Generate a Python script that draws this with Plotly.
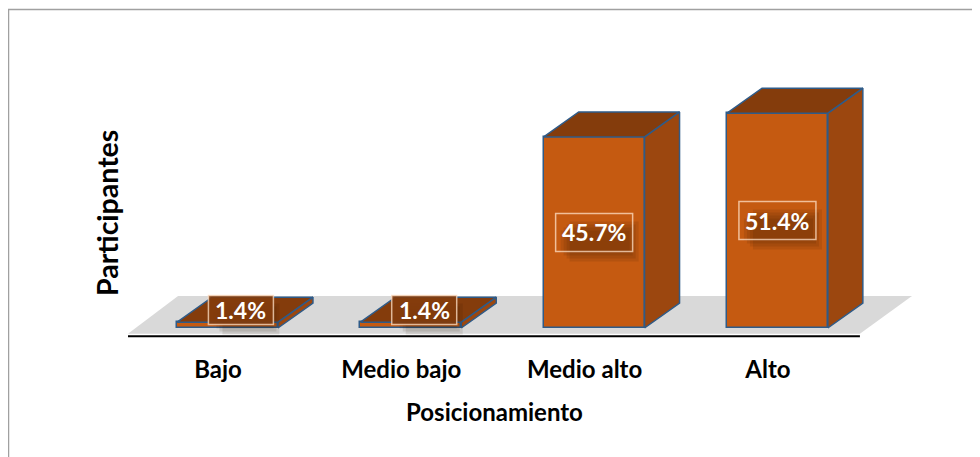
import plotly.graph_objects as go

# ---- data ----
categories = ["Bajo", "Medio bajo", "Medio alto", "Alto"]
values = [1.4, 1.4, 45.7, 51.4]
x_title = "Posicionamiento"
y_title = "Participantes"

# ---- style constants ----
FRONT = "#C55A11"
SIDE = "#9C470F"
TOP = "#843C0C"
EDGE = "#2F5B88"
FLOOR = "#D9D9D9"
FONT = "Lato, Carlito, Calibri, sans-serif"

OFF = 8  # page body margin
W, H = 980, 457
ML, MR, MT, MB = 100, 30, 40, 112
PW, PH = W - ML - MR, H - MT - MB
SX = 183.3   # px per category
SY = 4.18    # px per percent
X0PX = 218 - OFF   # pixel of category 0 tick
Y0PX = 328 - OFF   # pixel of value 0
XR = [-(X0PX - ML) / SX, -(X0PX - ML) / SX + PW / SX]
YR = [-(MT + PH - Y0PX) / SY, (Y0PX - MT) / SY]

BAR_SHIFT = 0.052     # bar front centre relative to category tick
BAR_W = 0.55          # front face width (x units)
DX, DY = 0.191, 5.98  # depth offset (x units, y units)
MIN_LABEL_Y = 4.3
TOP_LABEL_SHIFT = 0.125

def paper_x(px):
    return (px - OFF - ML) / PW

def paper_y(py):
    return (MT + PH - (py - OFF)) / PH

idx = list(range(len(categories)))
centers = [i + BAR_SHIFT for i in idx]

fig = go.Figure()

side_x, side_y, top_x, top_y = [], [], [], []
for c, v in zip(centers, values):
    x0, x1 = c - BAR_W / 2, c + BAR_W / 2
    side_x += [x1, x1 + DX, x1 + DX, x1, x1, None]
    side_y += [0, DY, v + DY, v, 0, None]
    top_x += [x0, x1, x1 + DX, x0 + DX, x0, None]
    top_y += [v, v, v + DY, v + DY, v, None]

fig.add_trace(go.Scatter(x=side_x, y=side_y, mode="lines", fill="toself",
                         fillcolor=SIDE, line=dict(color=EDGE, width=1.5),
                         hoverinfo="skip", showlegend=False))
fig.add_trace(go.Scatter(x=top_x, y=top_y, mode="lines", fill="toself",
                         fillcolor=TOP, line=dict(color=EDGE, width=1.5),
                         hoverinfo="skip", showlegend=False))
fig.add_trace(go.Bar(x=centers, y=values, width=BAR_W,
                     marker=dict(color=FRONT, line=dict(color=EDGE, width=1.5)),
                     hoverinfo="skip", showlegend=False))

shapes = []
shapes.append(dict(type="path", xref="x", yref="y", layer="below",
                   path="M -0.491,-1.4 L 3.502,-1.4 L 3.786,7.66 L -0.218,7.66 Z",
                   fillcolor=FLOOR, line=dict(width=0)))
shapes.append(dict(type="line", xref="x", yref="y", x0=-0.491, x1=3.502,
                   y0=-2.0, y1=-2.0, line=dict(color="black", width=2)))
shapes.append(dict(type="rect", xref="paper", yref="paper",
                   x0=paper_x(8.5), x1=paper_x(1010), y0=paper_y(480), y1=paper_y(9.5),
                   line=dict(color="#A0A0A0", width=1.5), fillcolor="rgba(0,0,0,0)"))

annotations = []
for i, c, v in zip(idx, centers, values):
    ly = v / 2
    lx = c
    small = ly < MIN_LABEL_Y
    if small:
        ly = MIN_LABEL_Y
        lx = i + TOP_LABEL_SHIFT
        bw, bh = 65, 29
    else:
        bw, bh = 77, 38
    for k in range(4):
        g = 3 * k
        shapes.append(dict(type="rect", xref="x", yref="y", layer="above",
                           xsizemode="pixel", ysizemode="pixel", xanchor=lx, yanchor=ly,
                           x0=-bw / 2 + 14 - g, x1=bw / 2 + 6 - g,
                           y0=-bh / 2 - 10 + g, y1=bh / 2 - 8 - g,
                           fillcolor="rgba(40,15,0,0.10)", line=dict(width=0)))
    shapes.append(dict(type="rect", xref="x", yref="y", layer="above",
                       xsizemode="pixel", ysizemode="pixel", xanchor=lx, yanchor=ly,
                       x0=-bw / 2, x1=bw / 2, y0=-bh / 2, y1=bh / 2,
                       fillcolor="rgba(132,60,12,0.9)" if small else "rgba(0,0,0,0)",
                       line=dict(color="rgba(255,225,200,0.75)", width=1.5)))
    annotations.append(dict(x=lx, y=ly, xref="x", yref="y", showarrow=False,
                            xanchor="center", yanchor="middle",
                            text=f"<b>{v:.1f}%</b>",
                            font=dict(family=FONT, size=23, color="white")))

annotations.append(dict(x=paper_x(494), y=paper_y(411), xref="paper", yref="paper",
                        xanchor="center", yanchor="middle",
                        showarrow=False, text=f"<b>{x_title}</b>",
                        font=dict(family=FONT, size=24, color="black")))
annotations.append(dict(x=paper_x(107), y=paper_y(213), xref="paper", yref="paper",
                        xanchor="center", yanchor="middle",
                        showarrow=False, text=f"<b>{y_title}</b>", textangle=-90,
                        font=dict(family=FONT, size=28.5, color="black")))

fig.update_layout(
    width=W, height=H,
    margin=dict(l=ML, r=MR, t=MT, b=MB),
    paper_bgcolor="white", plot_bgcolor="rgba(0,0,0,0)",
    shapes=shapes, annotations=annotations,
    xaxis=dict(range=XR, tickvals=idx, ticktext=[f"<b>{c}</b>" for c in categories],
               showgrid=False, zeroline=False, showline=False, ticks="",
               ticklabelstandoff=0,
               tickfont=dict(family=FONT, size=24, color="black")),
    yaxis=dict(range=YR, showgrid=False, zeroline=False, showline=False,
               showticklabels=False, ticks=""),
    bargap=0,
)

fig.write_html("out.html")
